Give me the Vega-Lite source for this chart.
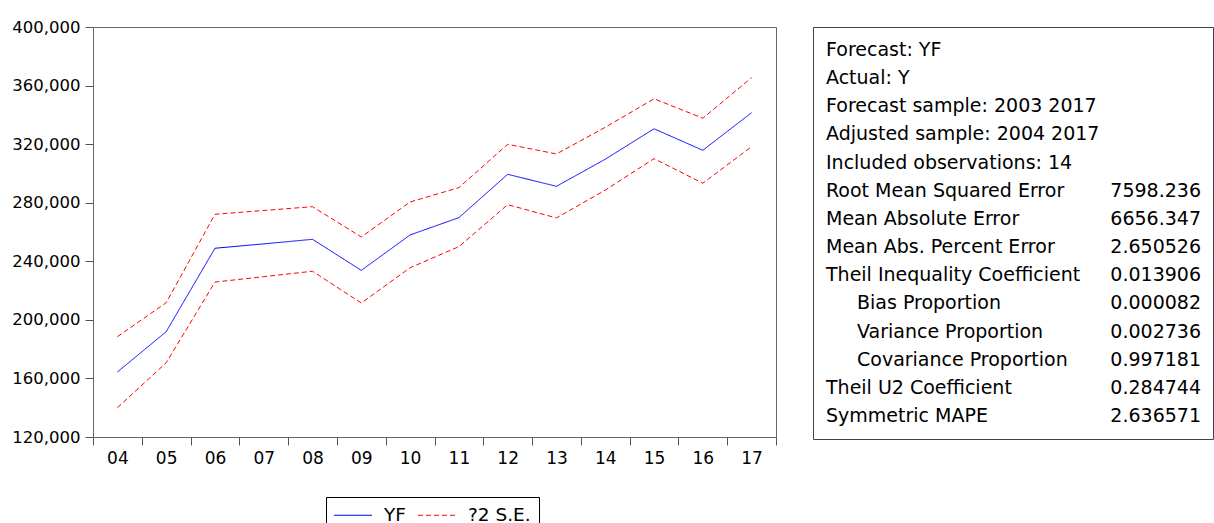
{
  "$schema": "https://vega.github.io/schema/vega-lite/v6.json",
  "padding": {"left": 11, "top": 18, "right": 0, "bottom": 0},
  "background": "white",
  "config": {"font": "DejaVu Sans", "view": {"stroke": "#666", "strokeWidth": 1}},
  "spacing": 35,
  "resolve": {"scale": {"color": "independent", "strokeDash": "independent"}},
  "hconcat": [
    {
      "width": 683,
      "height": 410,
      "data": {"values": [
        {"year": "04", "series": "YF", "band": "YF", "value": 164400},
        {"year": "05", "series": "YF", "band": "YF", "value": 191900},
        {"year": "06", "series": "YF", "band": "YF", "value": 248900},
        {"year": "07", "series": "YF", "band": "YF", "value": 251900},
        {"year": "08", "series": "YF", "band": "YF", "value": 255000},
        {"year": "09", "series": "YF", "band": "YF", "value": 233800},
        {"year": "10", "series": "YF", "band": "YF", "value": 258000},
        {"year": "11", "series": "YF", "band": "YF", "value": 269800},
        {"year": "12", "series": "YF", "band": "YF", "value": 299400},
        {"year": "13", "series": "YF", "band": "YF", "value": 291200},
        {"year": "14", "series": "YF", "band": "YF", "value": 309700},
        {"year": "15", "series": "YF", "band": "YF", "value": 330500},
        {"year": "16", "series": "YF", "band": "YF", "value": 315800},
        {"year": "17", "series": "YF", "band": "YF", "value": 341500},
        {"year": "04", "series": "?2 S.E.", "band": "upper", "value": 188500},
        {"year": "05", "series": "?2 S.E.", "band": "upper", "value": 211700},
        {"year": "06", "series": "?2 S.E.", "band": "upper", "value": 272100},
        {"year": "07", "series": "?2 S.E.", "band": "upper", "value": 274700},
        {"year": "08", "series": "?2 S.E.", "band": "upper", "value": 277300},
        {"year": "09", "series": "?2 S.E.", "band": "upper", "value": 256600},
        {"year": "10", "series": "?2 S.E.", "band": "upper", "value": 280500},
        {"year": "11", "series": "?2 S.E.", "band": "upper", "value": 290300},
        {"year": "12", "series": "?2 S.E.", "band": "upper", "value": 319900},
        {"year": "13", "series": "?2 S.E.", "band": "upper", "value": 313300},
        {"year": "14", "series": "?2 S.E.", "band": "upper", "value": 331500},
        {"year": "15", "series": "?2 S.E.", "band": "upper", "value": 351000},
        {"year": "16", "series": "?2 S.E.", "band": "upper", "value": 337700},
        {"year": "17", "series": "?2 S.E.", "band": "upper", "value": 365400},
        {"year": "04", "series": "?2 S.E.", "band": "lower", "value": 140000},
        {"year": "05", "series": "?2 S.E.", "band": "lower", "value": 170700},
        {"year": "06", "series": "?2 S.E.", "band": "lower", "value": 225800},
        {"year": "07", "series": "?2 S.E.", "band": "lower", "value": 229500},
        {"year": "08", "series": "?2 S.E.", "band": "lower", "value": 233200},
        {"year": "09", "series": "?2 S.E.", "band": "lower", "value": 211500},
        {"year": "10", "series": "?2 S.E.", "band": "lower", "value": 235600},
        {"year": "11", "series": "?2 S.E.", "band": "lower", "value": 250000},
        {"year": "12", "series": "?2 S.E.", "band": "lower", "value": 278700},
        {"year": "13", "series": "?2 S.E.", "band": "lower", "value": 269600},
        {"year": "14", "series": "?2 S.E.", "band": "lower", "value": 288600},
        {"year": "15", "series": "?2 S.E.", "band": "lower", "value": 310100},
        {"year": "16", "series": "?2 S.E.", "band": "lower", "value": 293300},
        {"year": "17", "series": "?2 S.E.", "band": "lower", "value": 318300}
      ]},
      "mark": {"type": "line", "strokeWidth": 1},
      "encoding": {
        "x": {
          "field": "year", "type": "ordinal",
          "scale": {"paddingInner": 0, "paddingOuter": 0},
          "axis": {"title": null, "labelAngle": 0, "tickBand": "extent", "domain": false,
                   "labelFontSize": 17, "labelColor": "#000", "tickColor": "#555", "tickSize": 8, "labelPadding": 5}
        },
        "y": {
          "field": "value", "type": "quantitative",
          "scale": {"domain": [120000, 400000], "zero": false, "nice": false},
          "axis": {"title": null, "values": [120000, 160000, 200000, 240000, 280000, 320000, 360000, 400000],
                   "format": ",d", "grid": false, "domain": false, "labelFontSize": 16.5, "labelColor": "#000",
                   "tickColor": "#555", "tickSize": 8, "labelPadding": 5}
        },
        "color": {
          "field": "series", "type": "nominal", "sort": ["YF", "?2 S.E."],
          "scale": {"domain": ["YF", "?2 S.E."], "range": ["#0000ff", "#ff0000"]},
          "legend": {"title": null, "orient": "none", "direction": "horizontal", "legendX": 233, "legendY": 470,
                     "strokeColor": "#000", "fillColor": "#fff", "padding": 8,
                     "symbolType": "M-2,0H2", "symbolSize": 361, "symbolStrokeWidth": 1,
                     "symbolOffset": 9, "labelOffset": 21, "columnPadding": 10,
                     "labelFontSize": 18.5, "labelColor": "#000"}
        },
        "strokeDash": {
          "field": "series", "type": "nominal", "sort": ["YF", "?2 S.E."],
          "scale": {"domain": ["YF", "?2 S.E."], "range": [[1, 0], [5, 3]]},
          "legend": {"title": null, "orient": "none", "direction": "horizontal", "legendX": 233, "legendY": 470,
                     "strokeColor": "#000", "fillColor": "#fff", "padding": 8,
                     "symbolType": "M-2,0H2", "symbolSize": 361, "symbolStrokeWidth": 1,
                     "symbolOffset": 9, "labelOffset": 21, "columnPadding": 10,
                     "labelFontSize": 18.5, "labelColor": "#000"}
        },
        "detail": {"field": "band"}
      }
    },
    {
      "width": 400,
      "height": 412,
      "view": {"stroke": "#444"},
      "data": {"values": [
        {"row": 0, "label": "Forecast: YF", "stat": "", "indent": 0},
        {"row": 1, "label": "Actual: Y", "stat": "", "indent": 0},
        {"row": 2, "label": "Forecast sample: 2003 2017", "stat": "", "indent": 0},
        {"row": 3, "label": "Adjusted sample: 2004 2017", "stat": "", "indent": 0},
        {"row": 4, "label": "Included observations: 14", "stat": "", "indent": 0},
        {"row": 5, "label": "Root Mean Squared Error", "stat": "7598.236", "indent": 0},
        {"row": 6, "label": "Mean Absolute Error", "stat": "6656.347", "indent": 0},
        {"row": 7, "label": "Mean Abs. Percent Error", "stat": "2.650526", "indent": 0},
        {"row": 8, "label": "Theil Inequality Coefficient", "stat": "0.013906", "indent": 0},
        {"row": 9, "label": "Bias Proportion", "stat": "0.000082", "indent": 1},
        {"row": 10, "label": "Variance Proportion", "stat": "0.002736", "indent": 1},
        {"row": 11, "label": "Covariance Proportion", "stat": "0.997181", "indent": 1},
        {"row": 12, "label": "Theil U2 Coefficient", "stat": "0.284744", "indent": 0},
        {"row": 13, "label": "Symmetric MAPE", "stat": "2.636571", "indent": 0}
      ]},
      "encoding": {
        "y": {"field": "row", "type": "ordinal", "axis": null, "scale": {"type": "point", "padding": 0.805}}
      },
      "layer": [
        {
          "transform": [{"filter": "datum.indent == 0"}],
          "mark": {"type": "text", "align": "left", "baseline": "middle", "x": 13, "fontSize": 19, "color": "#000"},
          "encoding": {"text": {"field": "label"}}
        },
        {
          "transform": [{"filter": "datum.indent == 1"}],
          "mark": {"type": "text", "align": "left", "baseline": "middle", "x": 44, "fontSize": 19, "color": "#000"},
          "encoding": {"text": {"field": "label"}}
        },
        {
          "mark": {"type": "text", "align": "right", "baseline": "middle", "x": 388, "fontSize": 19, "color": "#000"},
          "encoding": {"text": {"field": "stat"}}
        }
      ]
    }
  ]
}
